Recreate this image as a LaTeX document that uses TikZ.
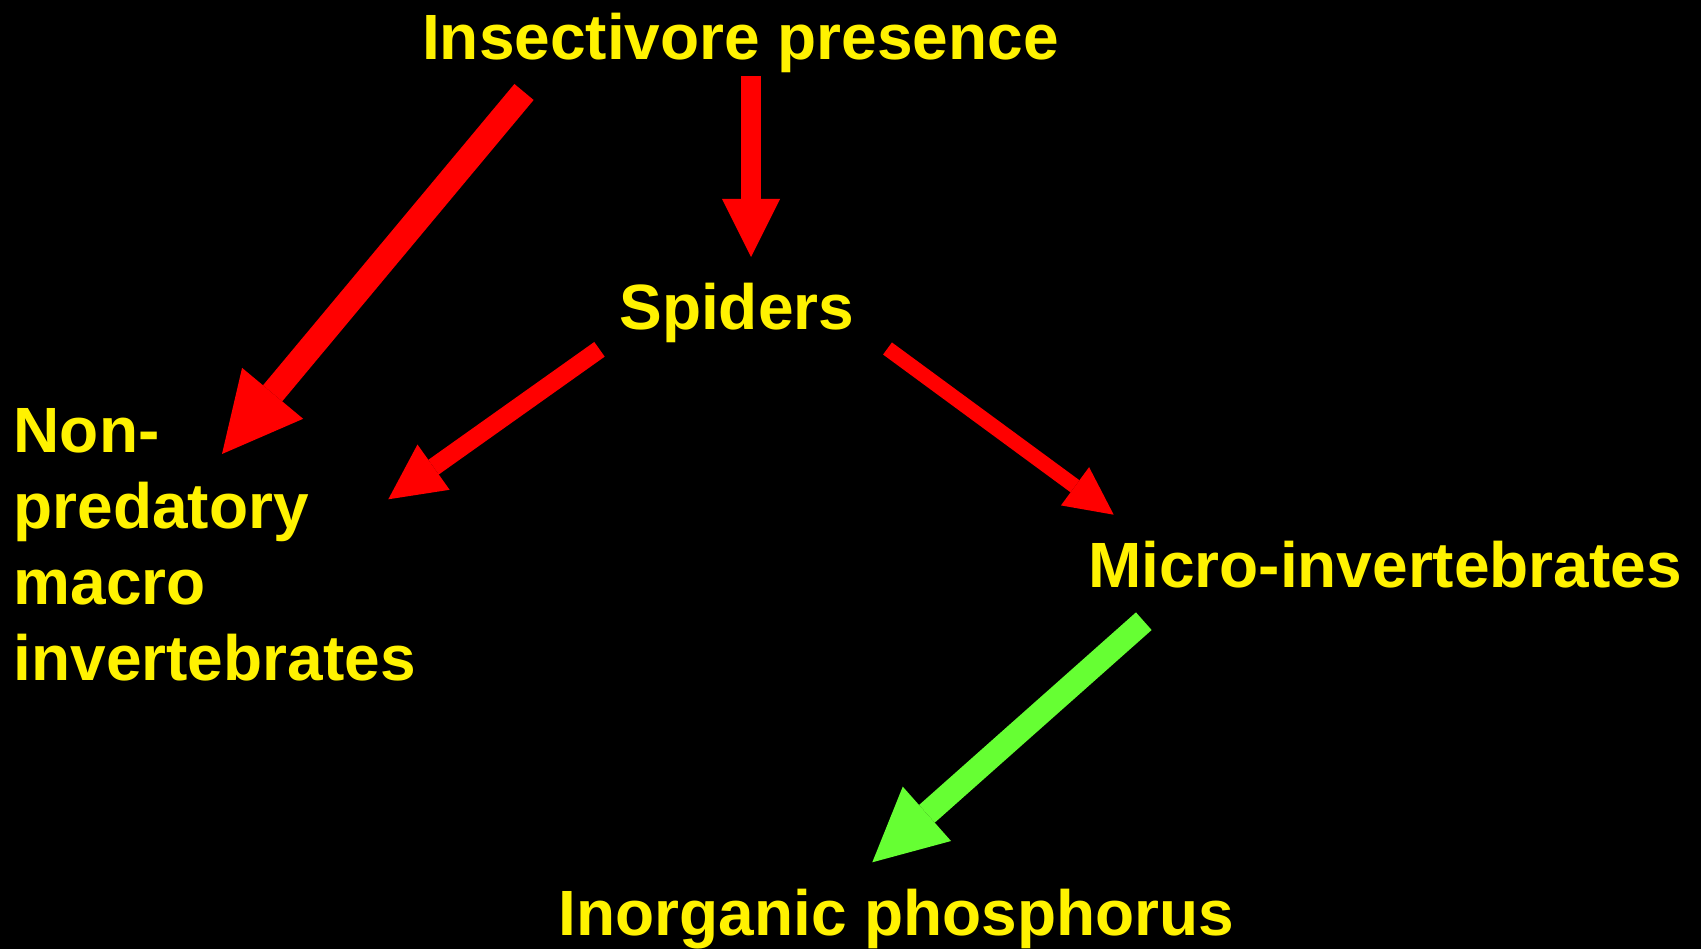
\documentclass[tikz,border=0pt]{standalone}
\usepackage{fontspec}
\setmainfont{Liberation Sans}
\usetikzlibrary{arrows.meta}
\definecolor{leafgreen}{RGB}{102,255,51}

\begin{document}
\begin{tikzpicture}[x=1pt, y=-1pt,
    lbl/.style={anchor=base, inner sep=0, text=yellow, font=\bfseries\fontsize{64}{76}\selectfont},
    fat/.style n args={3}{line width=#1, -{Triangle[length=#2, width=#3, line width=0pt]}}]
    \fill[black] (0,0) rectangle (1701,949); \useasboundingbox (0,0) rectangle (1701,949);

    \node[lbl] (insect) at (740.5,60) {Insectivore presence};
    \node[lbl] (spiders) at (736.7,330) {Spiders};
    \node[lbl, align=left, anchor=north west] (nonpred) at (13.5,408) {Non-\\predatory\\macro\\invertebrates};
    \node[lbl] (micro) at (1385,587) {Micro-invertebrates};
    \node[lbl] (inorg) at (896.6,935) {Inorganic phosphorus};

    \draw[red, fat={25pt}{79pt}{79.5pt}] ([shift={(-216.5,32)}]insect.base) -- ([shift={(208.5,46)}]nonpred.north west);
    \draw[red, fat={20pt}{58pt}{58pt}] ([shift={(10.5,16)}]insect.base) -- ([shift={(14.3,-73)}]spiders.base);
    \draw[red, fat={18pt}{55.5pt}{55.5pt}] ([shift={(-137.2,19.3)}]spiders.base) -- ([shift={(374.8,91.3)}]nonpred.north west);
    \draw[red, fat={15pt}{48pt}{47.5pt}] ([shift={(150.8,18.5)}]spiders.base) -- ([shift={(-271.3,-72.3)}]micro.base);
    \draw[leafgreen, fat={23.6pt}{73pt}{72.7pt}] ([shift={(-241.2,34.2)}]micro.base) -- ([shift={(-24.3,-72.7)}]inorg.base);
\end{tikzpicture}
\end{document}
